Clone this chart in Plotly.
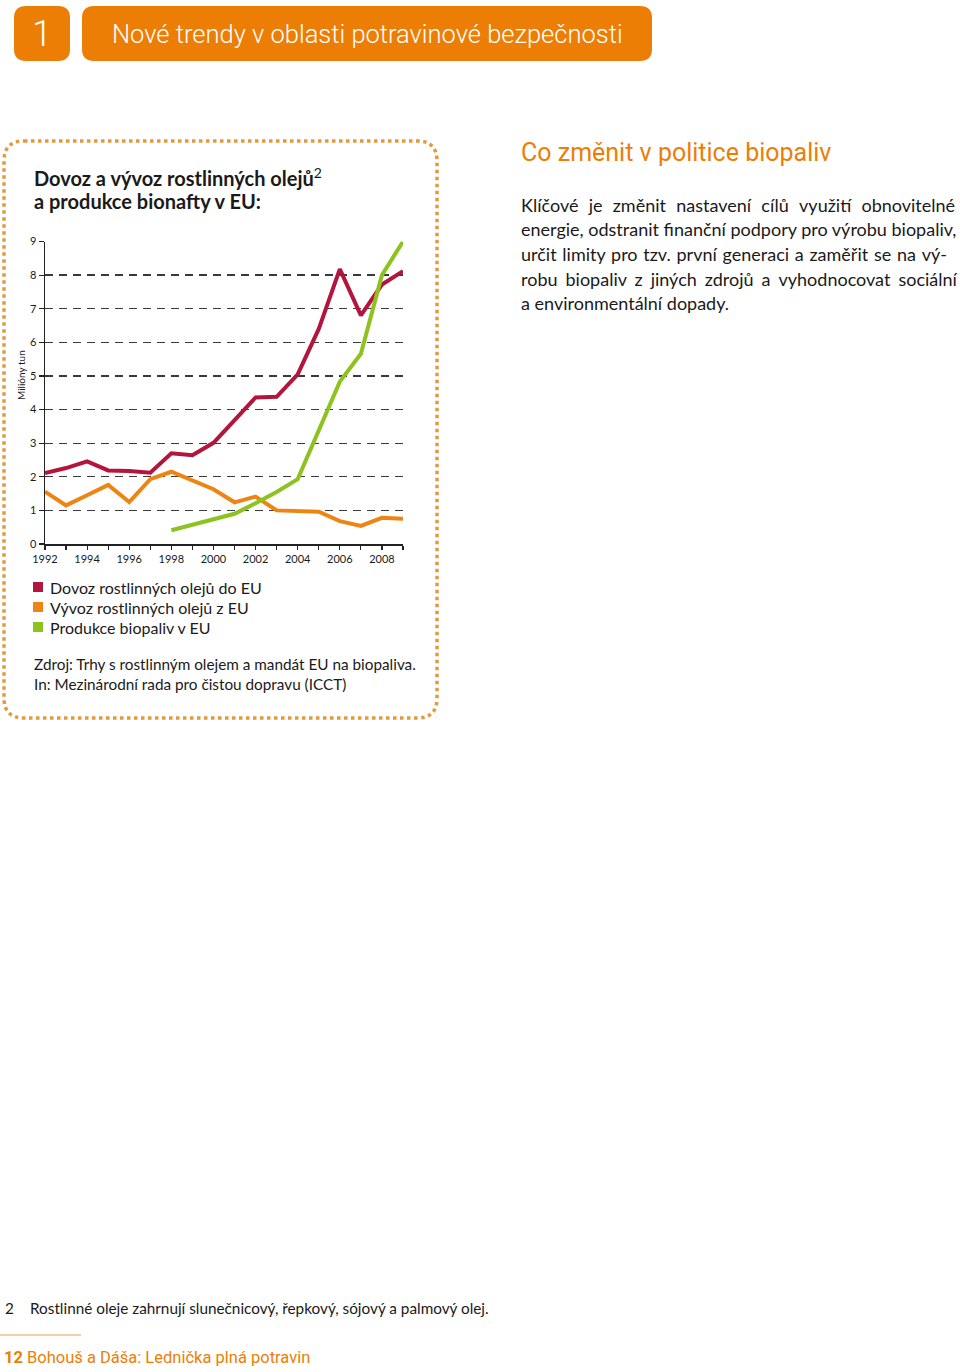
import plotly.graph_objects as go

W, H = 960, 1372

years = list(range(1992, 2010))
dovoz = [2.11, 2.26, 2.46, 2.19, 2.17, 2.12, 2.70, 2.64, 3.01, 3.68, 4.36, 4.38, 5.05, 6.40, 8.18, 6.80, 7.72, 8.12]
vyvoz = [1.56, 1.15, 1.45, 1.76, 1.25, 1.93, 2.15, 1.88, 1.63, 1.24, 1.41, 1.00, 0.98, 0.96, 0.68, 0.54, 0.78, 0.75]
biopaliva = [None, None, None, None, None, None, 0.41, 0.57, 0.73, 0.90, 1.21, 1.55, 1.93, 3.38, 4.83, 5.66, 8.00, 9.00]

series_names = ["Dovoz rostlinných olejů do EU", "Vývoz rostlinných olejů z EU", "Produkce biopaliv v EU"]
series_colors = ["#B3153D", "#EE8512", "#8DC21F"]
x_tick_labels = [str(y) for y in range(1992, 2009, 2)]
y_tick_vals = list(range(0, 10))

ORANGE = "#EC7E06"
TXT = "#1a1a1a"
BODY_FONT = "Lato"
TECH_FONT = "Roboto"
TS = "\u2009"  # thin space
HS = "\u200a"  # hair space


def px(x):
    return x / W


def py(y):
    return 1 - y / H


def rrect(x0, y0, x1, y1, r):
    pts = [
        f"M {px(x0 + r)} {py(y0)}",
        f"L {px(x1 - r)} {py(y0)}",
        f"Q {px(x1)} {py(y0)} {px(x1)} {py(y0 + r)}",
        f"L {px(x1)} {py(y1 - r)}",
        f"Q {px(x1)} {py(y1)} {px(x1 - r)} {py(y1)}",
        f"L {px(x0 + r)} {py(y1)}",
        f"Q {px(x0)} {py(y1)} {px(x0)} {py(y1 - r)}",
        f"L {px(x0)} {py(y0 + r)}",
        f"Q {px(x0)} {py(y0)} {px(x0 + r)} {py(y0)}",
        "Z",
    ]
    return " ".join(pts)


def ann(x, y, text, size, color=TXT, family=BODY_FONT, xanchor="left", weight=None, angle=0):
    f = dict(family=family, size=size, color=color)
    if weight is not None:
        f["weight"] = weight
    return dict(x=px(x), y=py(y), xref="paper", yref="paper", text=text, showarrow=False,
                font=f, xanchor=xanchor, yanchor="middle", textangle=angle)


fig = go.Figure()
for name, vals, col in zip(series_names, [dovoz, vyvoz, biopaliva], series_colors):
    fig.add_trace(go.Scatter(
        x=years, y=vals, mode="lines", name=name,
        line=dict(color=col, width=4), cliponaxis=False, showlegend=False,
        connectgaps=False, hoverinfo="skip",
    ))

shapes = []
annotations = []

# header boxes
shapes.append(dict(type="path", path=rrect(14, 6, 70, 61, 12), xref="paper", yref="paper",
                   fillcolor=ORANGE, line=dict(width=0)))
shapes.append(dict(type="path", path=rrect(82, 6, 652, 61, 12), xref="paper", yref="paper",
                   fillcolor=ORANGE, line=dict(width=0)))
annotations.append(ann(42, 34, "1", 36, color="white", family=TECH_FONT, xanchor="center", weight=300))
annotations.append(ann(367, 34, "Nové trendy v oblasti potravinové bezpečnosti", 25.5,
                       color="white", family=TECH_FONT, xanchor="center", weight=300))

# dotted frame
shapes.append(dict(type="path", path=rrect(4, 141, 437, 718, 20), xref="paper", yref="paper",
                   line=dict(color="#E39A3C", width=3.5, dash="3.5px,3.5px")))

# chart title
annotations.append(ann(32, 177, "<b>Dovoz a vývoz rostlinných olejů</b><sup>2</sup>", 20))
annotations.append(ann(32, 201, "<b>a produkce bionafty v EU:</b>", 20))

# y axis title
annotations.append(ann(21, 375, "Milióny tun", 10, xanchor="center", angle=-90))

# legend
for i, (name, col) in enumerate(zip(series_names, series_colors)):
    yc = 587 + 20 * i
    shapes.append(dict(type="rect", xref="paper", yref="paper", x0=px(33), x1=px(43),
                       y0=py(yc + 5), y1=py(yc - 5), fillcolor=col, line=dict(width=0)))
    annotations.append(ann(48, yc, name, 16))

# source
annotations.append(ann(32, 664, "Zdroj: Trhy s rostlinným olejem a mandát EU na biopaliva.", 15.3))
annotations.append(ann(32, 684, "In: Mezinárodní rada pro čistou dopravu (ICCT)", 15.3))

# right column
annotations.append(ann(519, 153, "Co změnit v politice biopaliv", 25, color=ORANGE, family=TECH_FONT, weight=400))

para_lines = [
    ("Klíčové je změnit nastavení cílů využití obnovitelné", TS + TS + HS),
    ("energie, odstranit finanční podpory pro výrobu biopaliv,", ""),
    ("určit limity pro tzv. první generaci a zaměřit se na vý-", HS),
    ("robu biopaliv z jiných zdrojů a vyhodnocovat sociální", TS + HS),
    ("a environmentální dopady.", ""),
]
para_y = [205, 229, 254, 279, 303]
for (line, extra), yy in zip(para_lines, para_y):
    txt = line.replace(" ", " " + extra) if extra else line
    annotations.append(ann(519, yy, txt, 18))

# footnote
annotations.append(ann(3, 1308, "2", 15.3))
annotations.append(ann(28, 1308, "Rostlinné oleje zahrnují slunečnicový, řepkový, sójový a palmový olej.", 15.3))
shapes.append(dict(type="line", xref="paper", yref="paper", x0=px(0), x1=px(81), y0=py(1335), y1=py(1335),
                   line=dict(color="#E8A050", width=1.2)))
annotations.append(ann(2, 1357, "<b>12</b> Bohouš a Dáša: Lednička plná potravin", 16.5,
                       color=ORANGE, family=TECH_FONT, weight=400))

fig.update_layout(
    width=W, height=H, autosize=False,
    margin=dict(l=0, r=0, t=0, b=0, pad=0, autoexpand=False),
    paper_bgcolor="white", plot_bgcolor="white",
    showlegend=False, hovermode=False,
    shapes=shapes, annotations=annotations,
    xaxis=dict(
        domain=[px(45), px(403)], range=[1992, 2009], automargin=False, fixedrange=True,
        tickmode="array", tickvals=[int(t) for t in x_tick_labels], ticktext=x_tick_labels,
        ticks="outside", ticklen=4, tickcolor="#222", tickwidth=1.2,
        minor=dict(dtick=1, tick0=1992, ticks="outside", ticklen=4, tickcolor="#222", tickwidth=1.2, showgrid=False),
        showline=True, linecolor="#222", linewidth=1.5,
        showgrid=False, zeroline=False,
        tickfont=dict(family=BODY_FONT, size=11, color=TXT),
    ),
    yaxis=dict(
        domain=[py(544), py(241.5)], range=[0, 9], automargin=False, fixedrange=True,
        tickmode="array", tickvals=y_tick_vals,
        ticks="outside", ticklen=5, tickcolor="#222", tickwidth=1.2,
        showline=True, linecolor="#222", linewidth=1.5,
        showgrid=True, gridcolor="#3a3a3a", gridwidth=1.3, griddash="8px,6px",
        zeroline=False,
        tickfont=dict(family=BODY_FONT, size=11, color=TXT),
    ),
)

fig.write_html("out.html", config={"displayModeBar": False, "staticPlot": True},
               post_script="document.body.style.margin='0';document.body.style.overflow='hidden';")
